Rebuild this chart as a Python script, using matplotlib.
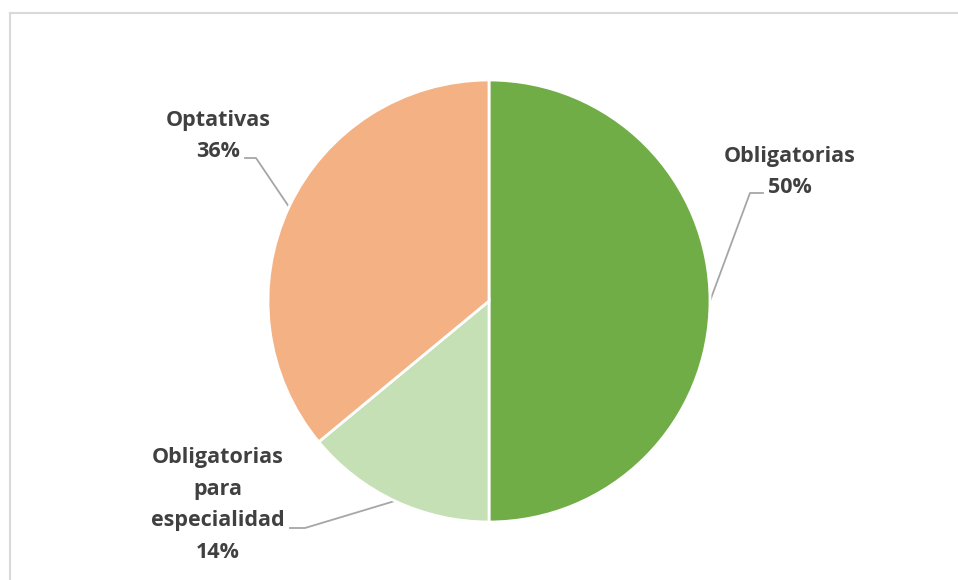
import numpy as np
import matplotlib
matplotlib.use("Agg")
import matplotlib.pyplot as plt
from matplotlib.lines import Line2D

categories = ["Obligatorias", "Obligatorias\npara\nespecialidad", "Optativas"]
values = [50, 14, 36]
colors = ["#70AD47", "#C5E0B4", "#F4B183"]

W, H = 958, 580
fig = plt.figure(figsize=(W / 100, H / 100), dpi=100)
fig.patch.set_facecolor("white")

# chart-area frame (top and left edges visible)
fig.add_artist(Line2D([10 / W, 957 / W], [1 - 13 / H, 1 - 13 / H], color="#D9D9D9", lw=1.5))
fig.add_artist(Line2D([10 / W, 10 / W], [0, 1 - 13 / H], color="#D9D9D9", lw=1.5))

cx, cy, r = 489, 301, 221
ax = fig.add_axes([(cx - r) / W, (H - cy - r) / H, 2 * r / W, 2 * r / H])
ax.axis("off")

wedges, _ = ax.pie(values, colors=colors, startangle=90, counterclock=False,
                   radius=1, wedgeprops=dict(edgecolor="white", linewidth=2))

def to_data(px, py):
    return (px - cx) / r, (cy - py) / r

# label text positions (center of text block) and leader-line elbows, in pixels
label_pos = [(790, 172), (218, 505), (218, 136)]
elbows = [[(763, 193), (750, 193)], [(290, 528), (305, 528)], [(245, 158), (256, 158)]]

total = sum(values)
start = 90.0
for i, (cat, v) in enumerate(zip(categories, values)):
    span = 360.0 * v / total
    mid = np.deg2rad(start - span / 2)
    start -= span
    tx, ty = to_data(*label_pos[i])
    ax.text(tx, ty, f"{cat}\n{round(100 * v / total)}%", ha="center", va="center",
            fontsize=15.5, fontweight="bold", color="#404040", family="Open Sans",
            linespacing=1.68)
    e = [to_data(*p) for p in elbows[i]]
    xs = [e[0][0], e[1][0], np.cos(mid)]
    ys = [e[0][1], e[1][1], np.sin(mid)]
    ax.plot(xs, ys, color="#A6A6A6", lw=1.3, clip_on=False, zorder=0)

ax.set_xlim(-1, 1)
ax.set_ylim(-1, 1)
ax.set_aspect("equal")

fig.savefig("out.png", dpi=100, facecolor="white")
